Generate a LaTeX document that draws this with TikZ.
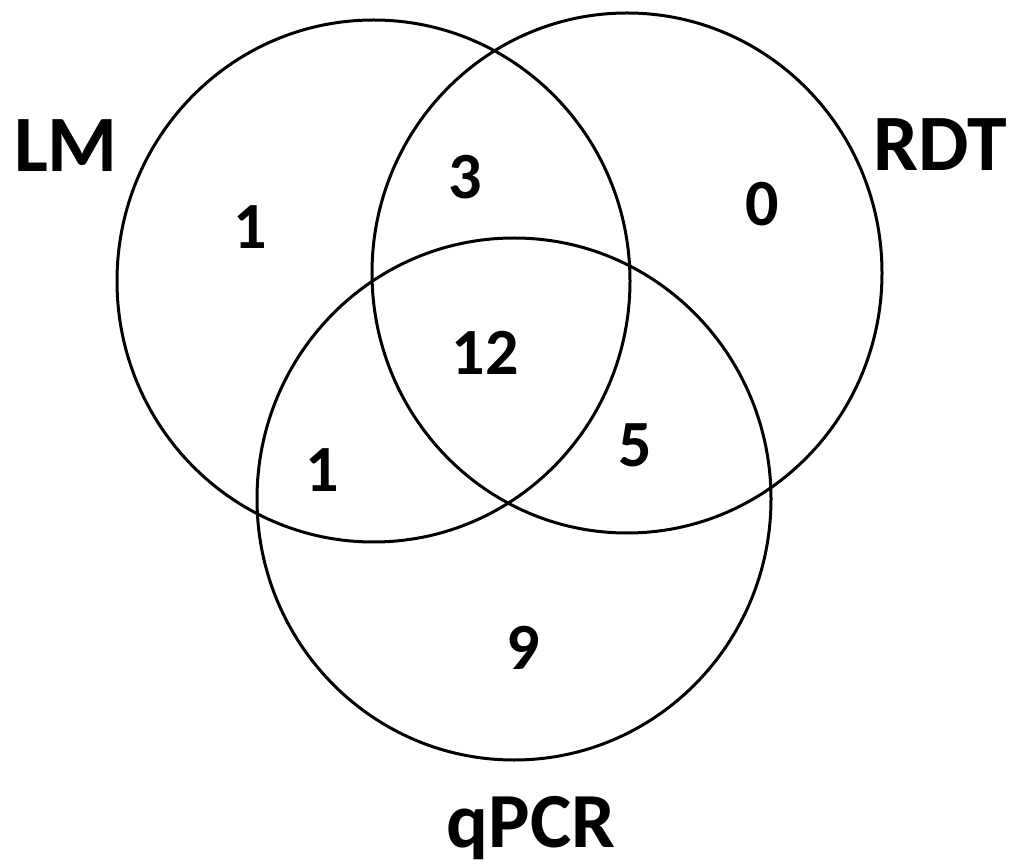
\documentclass[tikz,border=0pt]{standalone}
\usepackage{fontspec}
\setmainfont{Carlito}
\begin{document}
\begin{tikzpicture}[x=1pt,y=-1pt,
  ring/.style={draw=black,line width=3pt},
  setlabel/.style={font=\fontsize{80}{80}\selectfont\bfseries,anchor=base,inner sep=0pt},
  count/.style={font=\fontsize{66}{66}\selectfont\bfseries,anchor=base,inner sep=0pt}]
\useasboundingbox[fill=white] (0,0) rectangle (1012,866);
\draw[ring] (373.5,281) ellipse [x radius=256.5, y radius=261];
\draw[ring] (627,273) ellipse [x radius=255, y radius=260];
\draw[ring] (514,499) ellipse [x radius=257, y radius=261];
\node[setlabel] (lm) at (66,172) {LM};
\node[setlabel] (rdt) at (940,171) {RDT};
\node[setlabel,font=\fontsize{78}{78}\selectfont\bfseries] (qpcr) at (531,847) {qPCR};
\node[count] (a) at (250,249) {1};
\node[count] (b) at (465,199) {3};
\node[count] (c) at (762,226) {0};
\node[count] (d) at (485,375) {12};
\node[count] (e) at (322,491) {1};
\node[count] (f) at (635,466) {5};
\node[count] (g) at (523,669) {9};
\end{tikzpicture}
\end{document}
